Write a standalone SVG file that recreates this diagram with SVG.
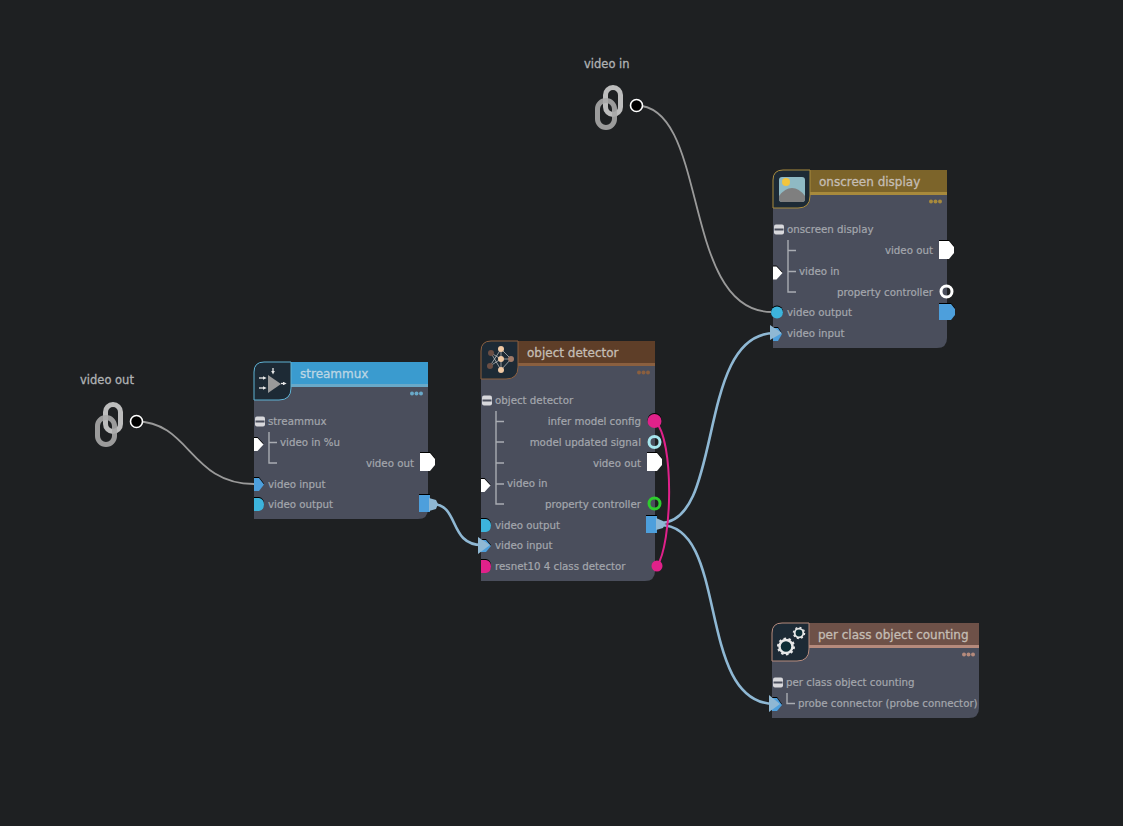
<svg xmlns="http://www.w3.org/2000/svg" width="1123" height="826" viewBox="0 0 1123 826">
<style>
text{font-family:"DejaVu Sans",sans-serif;fill:#a4a7ad;font-size:10.25px;stroke:#a4a7ad;stroke-width:.2px}
.t{font-size:12px;fill:#c4bdb4;stroke:#c4bdb4;stroke-width:.3px}
.e{text-anchor:end}
.l{font-size:11.5px;fill:#b0b2b4;stroke:#b0b2b4;stroke-width:.3px}
.body{fill:#4a4e5c}
.tree{fill:none;stroke:#a9acb2;stroke-width:1.4}
.w{fill:#fff}
.c{fill:none;stroke-linecap:round}
.v{stroke:#8fb8d4;stroke-width:2.6}
.p{stroke:#e0218a;stroke-width:2}
.g{stroke:#9a9a9a;stroke-width:1.8}
.min{fill:#d8d8dc}
.port{filter:drop-shadow(0 -1px 0 #000)}
.ar{stroke:#e8e8e8;stroke-width:1.300;fill:none}
</style>
<defs>
<g id="link" fill="none">
<rect x="5.500" y="-20.500" width="15" height="27" rx="7.500" stroke="#bdbdbd" stroke-width="5"/>
<rect x="-2.500" y="-7.500" width="17" height="27" rx="8.500" stroke="#a8a8a8" stroke-width="5" opacity=".9"/>
</g>
<path id="inW" d="M0-6.500L3.500-6.500 9.500 0 3.500 6.500 0 6.500Z"/>
<path id="outW" d="M0-9H10L15-3V3L10 9H0Z"/>
<g id="minus"><rect x="0" y="-5" width="10" height="10" rx="2" class="min"/><rect x=".5" y="-1" width="9" height="2" fill="#4a4e5c"/></g>
<marker id="ah" markerWidth="3" markerHeight="3" refX="1" refY="1.500" orient="auto"><path d="M0 0L3 1.500 0 3Z" fill="#e8e8e8"/></marker>
</defs>
<rect width="1123" height="826" fill="#1e2022"/>

<g id="connectors">
<path class="c g" d="M136 421.500C190 421.500 190 484 254 484"/>
<path class="c g" d="M636 105.500C710 105.500 680 312 772 312"/>
<path class="c v" d="M432 504C460 504 448 545 482 545"/>
<path class="c v" d="M660 523C725 523 695 333 775 333"/>
<path class="c v" d="M660 525C730 525 695 704 775 704"/>
<path class="c p" d="M655 421C675 440 672 545 657 566"/>
</g>

<g id="video-in">
<text class="l" x="584" y="68">video in</text>
<use href="#link" x="600" y="108"/>
<circle cx="636.500" cy="105.500" r="6" fill="#000" stroke="#fff" stroke-width="1.600"/>
</g>

<g id="video-out">
<text class="l" x="80" y="384">video out</text>
<use href="#link" x="100" y="425"/>
<circle cx="136.500" cy="421.500" r="6" fill="#000" stroke="#fff" stroke-width="1.600"/>
</g>

<g id="streammux">
<path class="body" d="M254 372Q254 362 264 362H428V509Q428 519 418 519H254Z"/>
<rect x="264" y="362" width="164" height="24" fill="#3a9bcf"/>
<rect x="264" y="384" width="164" height="3" fill="#69a9c9"/>
<path d="M254 372Q254 362 264 362H291V388Q291 400 279 400H254Z" fill="#1d2a35" stroke="#5fb2d4" stroke-width="1"/>
<path d="M268 375L281 384 268 393Z" fill="#9a9a9a"/>
<path class="ar" d="M259 378h5" marker-end="url(#ah)"/>
<path class="ar" d="M259 388h5" marker-end="url(#ah)"/>
<path class="ar" d="M273 368v4" marker-end="url(#ah)"/>
<path class="ar" d="M281 383.500h3" marker-end="url(#ah)"/>
<text class="t" x="300" y="378" style="fill:#bcd6e4;stroke:#bcd6e4">streammux</text>
<g fill="#69a9c9"><circle cx="412" cy="393.500" r="2"/><circle cx="416.500" cy="393.500" r="2"/><circle cx="421" cy="393.500" r="2"/></g>
<use href="#minus" x="255" y="421.500"/>
<text x="268" y="425">streammux</text>
<path class="tree" d="M269 432V463H277M269 442.500H277"/>
<text x="280" y="446">video in %u</text>
<text class="e" x="414" y="467">video out</text>
<text x="268" y="488">video input</text>
<text x="268" y="508">video output</text>
<use href="#inW" class="w port" x="254" y="444.500"/>
<use href="#outW" class="w port" x="420" y="462"/>
<path class="port" d="M254 478L259 478 264 484.500 259 491 254 491Z" fill="#4d9fdc"/>
<path class="port" d="M254 498H259Q264 499 264 504.500 264 510 259 511H254Z" fill="#3db4dc"/>
<rect class="port" x="419" y="495" width="11" height="17" fill="#4d9fdc"/>
<path d="M429 498L436 500 438 504 436 509 429 511Z" fill="#8fb8d4"/>
</g>

<g id="object-detector">
<path class="body" d="M481 351Q481 341 491 341H655V571Q655 581 645 581H481Z"/>
<rect x="491" y="341" width="164" height="24" fill="#5e3e28"/>
<rect x="491" y="363" width="164" height="3" fill="#8a5f3f"/>
<path d="M481 351Q481 341 491 341H518V367Q518 379 506 379H481Z" fill="#1d2a35" stroke="#8a5f3f" stroke-width="1"/>
<path d="M491 353L501 359 511 359M490 366L501 359M501 349V370M491 353L501 370M490 366L501 349M501 349L511 359M501 370L511 359" stroke="#c8c8c8" stroke-width=".7" fill="none"/>
<g fill="#f0c9a4"><circle cx="501" cy="349" r="3"/><circle cx="501" cy="359" r="3"/><circle cx="501" cy="370" r="3"/></g>
<g fill="#6a4e44"><circle cx="491" cy="353" r="3"/><circle cx="490" cy="366" r="3"/></g>
<circle cx="511" cy="359" r="3" fill="#a07a68"/>
<text class="t" x="527" y="357">object detector</text>
<g fill="#8a5f3f"><circle cx="639" cy="372.500" r="2"/><circle cx="643.500" cy="372.500" r="2"/><circle cx="648" cy="372.500" r="2"/></g>
<use href="#minus" x="482" y="400.500"/>
<text x="495" y="404">object detector</text>
<path class="tree" d="M496 411V504H504M496 421.500H504M496 442H504M496 463H504M496 484H504"/>
<text class="e" x="641" y="425">infer model config</text>
<text class="e" x="641" y="446">model updated signal</text>
<text class="e" x="641" y="467">video out</text>
<text x="507" y="487">video in</text>
<text class="e" x="641" y="508">property controller</text>
<text x="495" y="529">video output</text>
<text x="495" y="549">video input</text>
<text x="495" y="570">resnet10 4 class detector</text>
<circle class="port" cx="654.500" cy="421" r="7" fill="#e0218a"/>
<circle cx="654.500" cy="442" r="5.500" fill="none" stroke="#a6e6ee" stroke-width="3"/>
<use href="#outW" class="w port" x="647" y="462"/>
<use href="#inW" class="w port" x="481" y="485.500"/>
<circle cx="654.500" cy="503.500" r="5.500" fill="none" stroke="#2ecc2e" stroke-width="3"/>
<path class="port" d="M481 519H486Q491 520 491 525.500 491 531 486 532H481Z" fill="#3db4dc"/>
<path class="port" d="M481 540L486 540 491 546 486 552 481 552Z" fill="#4d9fdc"/>
<path d="M478 537L490 545 478 554Z" fill="#8fb8d4"/>
<path class="port" d="M481 560H486Q491 561 491 566.500 491 572 486 573H481Z" fill="#e0218a"/>
<circle cx="657" cy="566" r="5.500" fill="#e0218a"/>
<rect class="port" x="646" y="516" width="11" height="17" fill="#4d9fdc"/>
<path d="M656 518L663 521 665 524 663 528 656 530Z" fill="#8fb8d4"/>
</g>

<g id="onscreen-display">
<path class="body" d="M773 180Q773 170 783 170H947V338Q947 348 937 348H773Z"/>
<rect x="783" y="170" width="164" height="24" fill="#7c642a"/>
<rect x="783" y="192" width="164" height="3" fill="#a88a3c"/>
<path d="M773 180Q773 170 783 170H810V196Q810 208 798 208H773Z" fill="#1d2a35" stroke="#a88a3c" stroke-width="1"/>
<rect x="779" y="177" width="26" height="25" rx="3" fill="#8fbac4"/>
<path d="M779 199V196Q785 188 792 188 799 188 805 196V199Q805 202 802 202H782Q779 202 779 199Z" fill="#7f7f7f"/>
<circle cx="786" cy="182" r="4" fill="#f2c53d"/>
<text class="t" x="819" y="186">onscreen display</text>
<g fill="#a88a3c"><circle cx="931" cy="201.500" r="2"/><circle cx="935.500" cy="201.500" r="2"/><circle cx="940" cy="201.500" r="2"/></g>
<use href="#minus" x="774" y="229.500"/>
<text x="787" y="233">onscreen display</text>
<path class="tree" d="M788 240V292H796M788 250.500H796M788 271.500H796"/>
<text class="e" x="933" y="254">video out</text>
<text x="799" y="275">video in</text>
<text class="e" x="933" y="296">property controller</text>
<text x="787" y="316">video output</text>
<text x="787" y="337">video input</text>
<use href="#outW" class="w port" x="939" y="250"/>
<use href="#inW" class="w port" x="773" y="273"/>
<circle cx="946.500" cy="291.500" r="5.500" fill="none" stroke="#fff" stroke-width="3"/>
<circle class="port" cx="777" cy="312.500" r="6" fill="#3db4dc"/>
<path class="port" d="M939 304H951L955 309V315L951 320H939Z" fill="#4d9fdc"/>
<path class="port" d="M773 328L778 328 782 334 778 341 773 341Z" fill="#4d9fdc"/>
<path d="M770 325L782 333 770 340Z" fill="#8fb8d4"/>
</g>

<g id="per-class-object-counting">
<path class="body" d="M772 633Q772 623 782 623H979V708Q979 718 969 718H772Z"/>
<rect x="782" y="623" width="197" height="24" fill="#6e5148"/>
<rect x="782" y="645" width="197" height="3" fill="#b58a7c"/>
<path d="M772 633Q772 623 782 623H809V649Q809 661 797 661H772Z" fill="#1d2a35" stroke="#b58a7c" stroke-width="1"/>
<circle cx="786" cy="646.500" r="6.500" fill="#0e2e36" stroke="#e8e8e8" stroke-width="2.500"/>
<circle cx="786" cy="646.500" r="8" fill="none" stroke="#e8e8e8" stroke-width="2" stroke-dasharray="2.500 2.500"/>
<circle cx="799" cy="633" r="4.300" fill="#0e2e36" stroke="#e8e8e8" stroke-width="1.800"/>
<circle cx="799" cy="633" r="5.500" fill="none" stroke="#e8e8e8" stroke-width="1.500" stroke-dasharray="2 2.300"/>
<text class="t" x="818" y="639">per class object counting</text>
<g fill="#b58a7c"><circle cx="964" cy="654.500" r="2"/><circle cx="968.500" cy="654.500" r="2"/><circle cx="973" cy="654.500" r="2"/></g>
<use href="#minus" x="773" y="682.500"/>
<text x="786" y="686">per class object counting</text>
<path class="tree" d="M787 693V703.500H795"/>
<text x="798" y="707">probe connector (probe connector)</text>
<path class="port" d="M772 698L777 698 782 705 777 711 772 711Z" fill="#4d9fdc"/>
<path d="M769 695L780 704 769 712Z" fill="#8fb8d4"/>
</g>
</svg>
